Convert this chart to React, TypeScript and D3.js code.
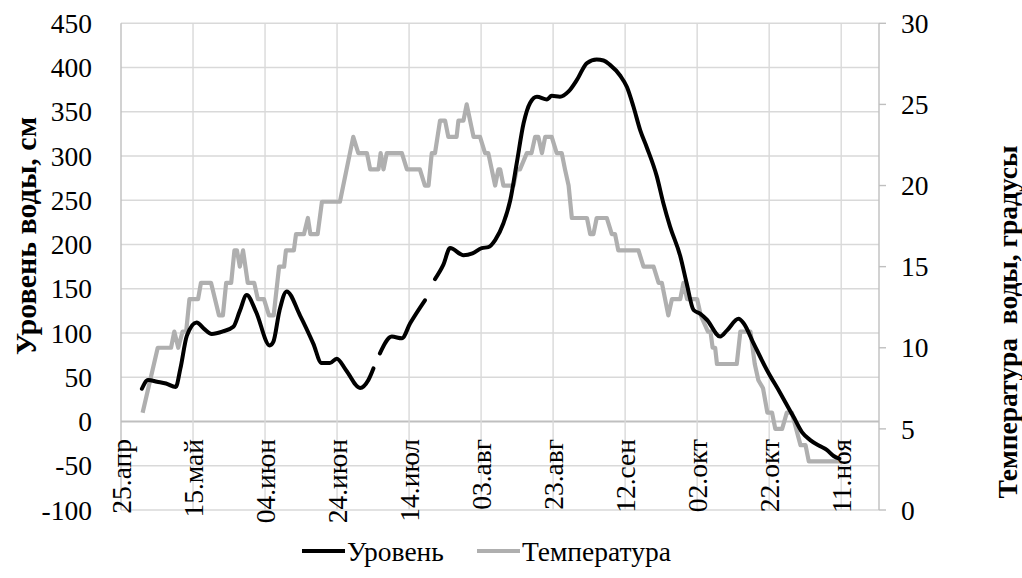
import React from "react";
import * as d3 from "d3";

const startUtc = Date.UTC(2013, 3, 25);
const dayMs = 864e5;
const endDay = 210.5;

const monthsRu = ["янв", "фев", "мар", "апр", "май", "июн", "июл", "авг", "сен", "окт", "ноя", "дек"];
const tickDays = [0, 20, 40, 60, 80, 100, 120, 140, 160, 180, 200];
const levelTicks = [-100, -50, 0, 50, 100, 150, 200, 250, 300, 350, 400, 450];
const tempTicks = [0, 5, 10, 15, 20, 25, 30];

// Уровень (cm), days from 25 Apr; null = gap
const levelDays = [5.8, 7.5, 10, 12.5, 15.2, 16.5, 18.3, 21, 23, 25.2, 28.4, 31.2, 33, 34.9, 37.5, 41.3, 42.3, 44, 46, 49.7, 53.4, 55.7, 58, 59.9, 62.5, 66.4, 68.7, 70.1,
  71, 71.9, 75.2, 78, 80.3, 84.4,
  85.8, 87.2, 89.5, 91.4, 95.1, 97.6, 100.2, 102, 103.9, 106.2, 108.1, 109.9, 111.8, 113.6, 115.5, 118.3, 119.6, 121.9, 124.3, 126.6, 129.4, 132.1, 134, 135.8, 138.6, 140.5, 142.3, 144.2, 146, 148.8, 150.6, 152.5, 155.3, 157.1, 159, 160.8, 162.7, 166.4, 168.3, 171.5, 172.9, 175.7, 179.4, 183.1, 186.8, 189.1, 191.4, 194.2, 196, 197.9, 199.5];
const levelValues = [37, 47, 45, 43, 39, 60, 97, 112, 105, 99, 102, 107, 125, 143, 124, 86, 90, 125, 147, 120, 88, 66, 66, 71, 58, 38, 47, 60,
  null, 77, 96, 94, 111, 137,
  null, 161, 177, 196, 188, 190, 196, 197, 205, 224, 250, 292, 337, 360, 367, 364, 368, 367, 373, 386, 405, 409, 408, 403, 391, 378, 356, 329, 310, 277, 247, 220, 187, 156, 126, 122, 115, 96, 103, 116, 111, 88, 58, 32, 5, -12, -21, -28, -32, -39, -42];

// Температура (°C)
const tempDays = [6, 10.2, 13.9, 14.8, 15.9, 17.1, 18.1, 19, 21.4, 22.2, 25, 27.2, 28.3, 29.2, 30.6, 31.5, 32.2, 33, 33.9, 35.2, 37, 38, 39.7, 41.1, 42.4, 43.9, 45.3, 45.8, 48, 48.6, 50.8, 51.9, 52.6, 54.6, 55.8, 60.8, 64.5, 65.9, 68.3, 69.2, 71.5, 72.1, 72.9, 73.8, 78, 79.4, 83, 84.4, 85.4, 86.3, 87.2, 88.6, 90, 90.9, 93.2, 93.7, 95.1, 96, 97.9, 99.7, 101.1, 102, 103.9, 104.8, 105.3, 106.2, 109, 109.9, 110.8, 112.7, 114, 115, 115.9, 116.9, 117.8, 119.6, 121, 122.4, 123.3, 124.3, 125.2, 129.4, 130.3, 131.2, 132.1, 134.9, 136.3, 137.2, 138.1, 143.7, 145.1, 147.9, 149.3, 150.2, 152, 153, 155.3, 156.2, 157.2, 160, 161, 163, 163.7, 164.3, 165, 165.5, 171, 172, 174.8, 176, 177, 178.3, 179.5, 180.8, 181.7, 183.6, 184.9, 186.3, 188.7, 190.1, 191, 200];
const tempValues = [6, 10, 10, 11, 10, 11, 11, 13, 13, 14, 14, 12, 12, 14, 14, 16, 16, 15, 16, 14, 14, 13, 13, 12, 12, 15, 15, 16, 16, 17, 17, 18, 17, 17, 19, 19, 23, 22, 22, 21, 21, 22, 21, 22, 22, 21, 21, 20, 20, 22, 22, 24, 24, 23, 23, 24, 24, 25, 23, 23, 22, 22, 20, 21, 21, 20, 20, 21, 21, 22, 22, 23, 23, 22, 23, 23, 22, 22, 21, 20, 18, 18, 17, 17, 18, 18, 17, 17, 16, 16, 15, 15, 14, 14, 12, 13, 13, 14, 13, 13, 12, 11, 11, 10, 10, 9, 9, 11, 11, 9, 8, 7.5, 6, 6, 5, 5, 6, 6, 4, 4, 3, 3];

const toDate = (d: number) => new Date(startUtc + d * dayMs);
const fmt = (dt: Date) => `${String(dt.getUTCDate()).padStart(2, "0")}.${monthsRu[dt.getUTCMonth()]}`;

const W = 1022, H = 578;
const L = 121, R = 879, T = 23.3, B = 510;
const FONT = "'Liberation Serif', 'Times New Roman', serif";
const FS = 27.5;

export default function App() {
  const x = d3.scaleUtc().domain([toDate(0), toDate(endDay)]).range([L, R]);
  const yL = d3.scaleLinear().domain([-100, 450]).range([B, T]);
  const yR = d3.scaleLinear().domain([0, 30]).range([B, T]);

  const levelPts = levelDays.map((d, i) => ({ d, v: levelValues[i] }));
  const tempPts = tempDays.map((d, i) => ({ d, v: tempValues[i] }));

  const levelLine = d3.line<{ d: number; v: number | null }>()
    .defined((p) => p.v !== null)
    .x((p) => x(toDate(p.d)))
    .y((p) => yL(p.v as number))
    .curve(d3.curveMonotoneX);
  const tempLine = d3.line<{ d: number; v: number }>()
    .x((p) => x(toDate(p.d)))
    .y((p) => yR(p.v));

  const gridColor = "#d9d9d9";
  const axisColor = "#bfbfbf";
  const grey = "#afafaf";

  return (
    <svg width={W} height={H} style={{ position: "absolute", left: 0, top: 0, background: "#fff" }} fontFamily={FONT}>
      <rect x={0} y={0} width={W} height={H} fill="#fff" />
      {levelTicks.map((t) => (
        <line key={"h" + t} x1={L} x2={R} y1={yL(t)} y2={yL(t)} stroke={t === 0 ? axisColor : gridColor} strokeWidth={t === 0 ? 1.8 : 1.4} />
      ))}
      {tickDays.map((d) => (
        <line key={"v" + d} x1={x(toDate(d))} x2={x(toDate(d))} y1={T} y2={B} stroke={d === 0 ? axisColor : gridColor} strokeWidth={1.4} />
      ))}
      <line x1={R} x2={R} y1={T} y2={B} stroke={axisColor} strokeWidth={1.4} />
      {tempTicks.map((t) => (
        <line key={"rt" + t} x1={R} x2={R + 7} y1={yR(t)} y2={yR(t)} stroke={axisColor} strokeWidth={1.4} />
      ))}
      <path d={tempLine(tempPts) || ""} fill="none" stroke={grey} strokeWidth={4.2} strokeLinejoin="round" />
      <path d={levelLine(levelPts) || ""} fill="none" stroke="#000" strokeWidth={4} strokeLinejoin="round" strokeLinecap="round" />
      {levelTicks.map((t) => (
        <text key={"lt" + t} x={92} y={yL(t)} dy="0.35em" textAnchor="end" fontSize={FS} fill="#000">{t}</text>
      ))}
      {tempTicks.map((t) => (
        <text key={"rl" + t} x={901} y={yR(t)} dy="0.35em" textAnchor="start" fontSize={FS} fill="#000">{t}</text>
      ))}
      {tickDays.map((d) => {
        const px = x(toDate(d));
        return (
          <text key={"xl" + d} transform={`translate(${px},${439}) rotate(-90)`} dy="0.35em" textAnchor="end" fontSize={FS} fill="#000">{fmt(toDate(d))}</text>
        );
      })}
      <text transform={`translate(${25},${236}) rotate(-90)`} dy="0.35em" textAnchor="middle" fontSize={30} fontWeight="bold" fill="#000">Уровень воды, см</text>
      <text transform={`translate(${1007},${322}) rotate(-90)`} dy="0.35em" textAnchor="middle" fontSize={27.5} fontWeight="bold" fill="#000" style={{ whiteSpace: "pre" }}>{"Температура  воды, градусы"}</text>
      <line x1={302} x2={345} y1={551} y2={551} stroke="#000" strokeWidth={4} />
      <text x={347} y={551} dy="0.35em" fontSize={FS} fill="#000">Уровень</text>
      <line x1={477} x2={520} y1={551} y2={551} stroke={grey} strokeWidth={4} />
      <text x={522} y={551} dy="0.35em" fontSize={FS} fill="#000">Температура</text>
    </svg>
  );
}
